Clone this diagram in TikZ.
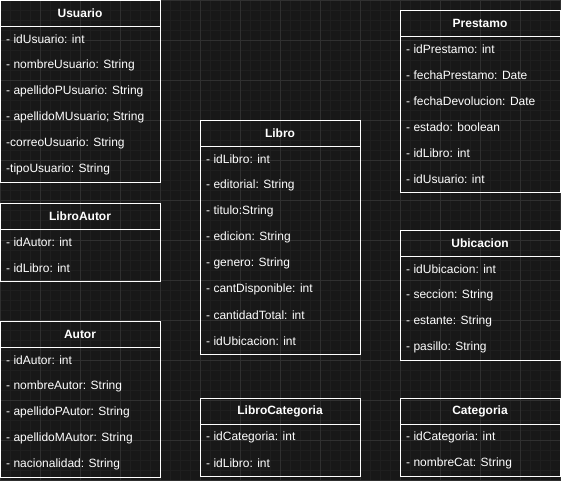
\documentclass[tikz,border=0pt]{standalone}
\usepackage{fontspec}
\setmainfont{Liberation Sans}
\definecolor{bgcol}{HTML}{181818}
\definecolor{gridminor}{HTML}{1F1F1F}
\definecolor{gridmajor}{HTML}{303030}
\newcommand\umlclass[6]{%
  \node[classtitle] (#1) at ({#2+80},{#3+13}) {#5};
  \draw[boxline] (#2,#3) rectangle ({#2+160},{#3+26+26*#4});
  \draw[boxline] (#2,{#3+26}) -- ({#2+160},{#3+26});
  \foreach \a [count=\i] in {#6} {
    \node[attr] (#1-\i) at ({#2+6},{#3+13+26*\i}) {\a};
  }%
}
\begin{document}
\begin{tikzpicture}[x=1pt,y=-1pt,
  boxline/.style={draw=white, line width=1pt},
  classtitle/.style={font=\bfseries\fontsize{12}{14}\selectfont, text=white, inner sep=0pt},
  attr/.style={font=\fontsize{12}{14}\selectfont, text=white, anchor=west, inner sep=0pt}]
\fill[bgcol] (0,0) rectangle (561,480);
\useasboundingbox (0,0) rectangle (561,480);
\foreach \k in {0,10,...,560} \draw[gridminor, line width=0.6pt] (\k,0) -- (\k,480);
\foreach \k in {0,10,...,480} \draw[gridminor, line width=0.6pt] (0,\k) -- (561,\k);
\foreach \k in {0,40,...,560} \draw[gridmajor, line width=0.8pt] (\k,0) -- (\k,480);
\foreach \k in {0,40,...,480} \draw[gridmajor, line width=0.8pt] (0,\k) -- (561,\k);

\umlclass{usuario}{0}{0}{6}{Usuario}{- idUsuario: int,- nombreUsuario: String,- apellidoPUsuario: String,- apellidoMUsuario; String,-correoUsuario: String,-tipoUsuario: String}
\umlclass{libroautor}{0}{203}{2}{LibroAutor}{- idAutor: int,- idLibro: int}
\umlclass{autor}{0}{321}{5}{Autor}{- idAutor: int,- nombreAutor: String,- apellidoPAutor: String,- apellidoMAutor: String,- nacionalidad: String}
\umlclass{libro}{200}{120}{8}{Libro}{- idLibro: int,- editorial: String,- titulo:String,- edicion: String,- genero: String,- cantDisponible: int,- cantidadTotal: int,- idUbicacion: int}
\umlclass{librocategoria}{200}{398}{2}{LibroCategoria}{- idCategoria: int,- idLibro: int}
\umlclass{prestamo}{400}{10}{6}{Prestamo}{- idPrestamo: int,- fechaPrestamo: Date,- fechaDevolucion: Date,- estado: boolean,- idLibro: int,- idUsuario: int}
\umlclass{ubicacion}{400}{230}{4}{Ubicacion}{- idUbicacion: int,- seccion: String,- estante: String,- pasillo: String}
\umlclass{categoria}{400}{398}{2}{Categoria}{- idCategoria: int,- nombreCat: String}
\end{tikzpicture}
\end{document}
